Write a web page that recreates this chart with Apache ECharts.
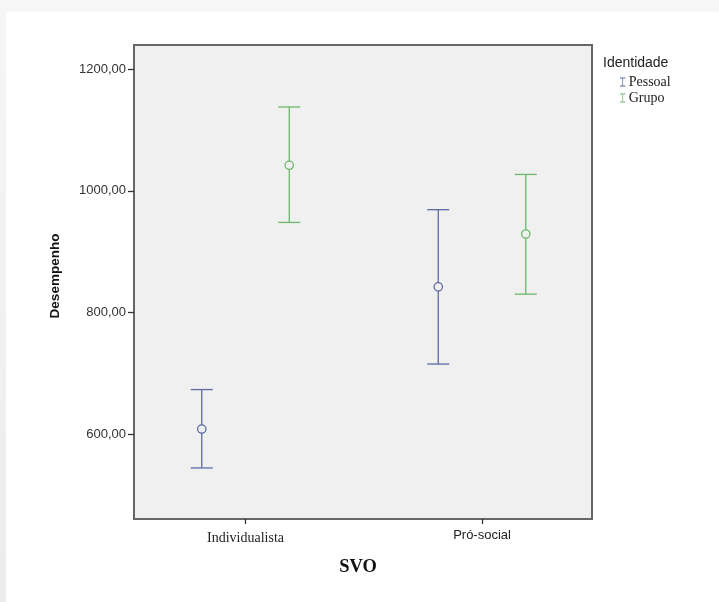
<!DOCTYPE html>
<html>
<head>
<meta charset="utf-8">
<script src="https://cdn.jsdelivr.net/npm/echarts@6/dist/echarts.min.js"></script>
<style>
html,body{margin:0;padding:0;width:719px;height:602px;overflow:hidden;background:linear-gradient(#f6f6f6,#ececec);}
#chart{position:absolute;left:6px;top:12px;width:713px;height:590px;background:#ffffff;}
</style>
</head>
<body>
<div id="chart"></div>
<script>
const categories = ['Individualista', 'Pró-social'];
const seriesNames = ['Pessoal', 'Grupo'];
const pessoalMean = [608, 842];
const pessoalLow = [544, 715];
const pessoalHigh = [673, 969];
const grupoMean = [1042, 929];
const grupoLow = [948, 830];
const grupoHigh = [1138, 1027];
const yTicks = [600, 800, 1000, 1200];
const colors = ['#5d6aa3', '#6cb96c'];
const groupOffset = 0.185;

function buildData(mean, low, high, off) {
  return categories.map((c, i) => [i + off, mean[i], low[i], high[i]]);
}

function renderItem(params, api) {
  const x = api.value(0);
  const m = api.coord([x, api.value(1)]);
  const lo = api.coord([x, api.value(2)]);
  const hi = api.coord([x, api.value(3)]);
  const color = api.visual('color');
  const cap = 11;
  const style = { stroke: color, lineWidth: 1.3, fill: null };
  return {
    type: 'group',
    children: [
      { type: 'line', shape: { x1: m[0], y1: lo[1], x2: m[0], y2: hi[1] }, style },
      { type: 'line', shape: { x1: m[0] - cap, y1: hi[1], x2: m[0] + cap, y2: hi[1] }, style },
      { type: 'line', shape: { x1: m[0] - cap, y1: lo[1], x2: m[0] + cap, y2: lo[1] }, style },
      { type: 'circle', shape: { cx: m[0], cy: m[1], r: 4.2 }, style: { stroke: color, lineWidth: 1.3, fill: '#f0f0f0' } }
    ]
  };
}

const chart = echarts.init(document.getElementById('chart'), null, { renderer: 'canvas' });
const Ipath = 'path://M0,0H6V1H3.4V9H6V10H0V9H2.6V1H0Z';
chart.setOption({
  animation: false,
  backgroundColor: '#ffffff',
  color: colors,
  grid: {
    left: 128, top: 33, right: 127, bottom: 83,
    show: true, backgroundColor: '#f0f0f0', borderColor: '#666', borderWidth: 2
  },
  title: {
    text: 'Identidade', left: 597, top: 44, padding: 0,
    textStyle: { fontFamily: 'Liberation Sans', fontSize: 14, fontWeight: 'normal', color: '#222' }
  },
  legend: {
    orient: 'vertical', left: 614, top: 63, itemGap: 2, padding: 0,
    itemWidth: 6, itemHeight: 9, icon: Ipath,
    textStyle: { fontFamily: 'Liberation Serif', fontSize: 14, color: '#222', padding: [0, 0, 0, -2] },
    data: seriesNames
  },
  xAxis: {
    type: 'value', min: -0.4715, max: 1.465,
    splitLine: { show: false },
    axisLine: { show: false },
    axisTick: { show: true, customValues: [0, 1], length: 5, lineStyle: { color: '#333', width: 1.3 } },
    axisLabel: {
      customValues: [0, 1], margin: 10,
      formatter: v => v === 0 ? '{a|' + categories[0] + '}' : '{b|' + categories[1] + '}',
      rich: {
        a: { fontFamily: 'Liberation Serif', fontSize: 14, color: '#222', padding: [2, 0, 0, 0] },
        b: { fontFamily: 'Liberation Sans', fontSize: 13, color: '#222' }
      }
    }
  },
  yAxis: {
    type: 'value', min: 460, max: 1240,
    splitLine: { show: false },
    axisLine: { show: false, onZero: false },
    axisTick: { show: true, customValues: yTicks, length: 6, lineStyle: { color: '#333', width: 1.3 } },
    axisLabel: {
      customValues: yTicks, margin: 8,
      fontFamily: 'Liberation Sans', fontSize: 13, color: '#333',
      formatter: v => v.toFixed(2).replace('.', ',')
    }
  },
  graphic: [{
    type: 'text', x: 49, y: 264, rotation: Math.PI / 2,
    style: {
      text: 'Desempenho', fontFamily: 'Liberation Sans', fontSize: 13.5, fontWeight: 'bold',
      fill: '#111', align: 'center', verticalAlign: 'middle'
    }
  }, {
    type: 'text', x: 352, y: 555,
    style: {
      text: 'SVO', fontFamily: 'Liberation Serif', fontSize: 18.5, fontWeight: 'bold',
      fill: '#111', align: 'center', verticalAlign: 'middle'
    }
  }],
  series: [
    { name: seriesNames[0], type: 'custom', renderItem, data: buildData(pessoalMean, pessoalLow, pessoalHigh, -groupOffset), encode: { x: 0, y: [1, 2, 3] } },
    { name: seriesNames[1], type: 'custom', renderItem, data: buildData(grupoMean, grupoLow, grupoHigh, groupOffset), encode: { x: 0, y: [1, 2, 3] } }
  ]
});
</script>
</body>
</html>
